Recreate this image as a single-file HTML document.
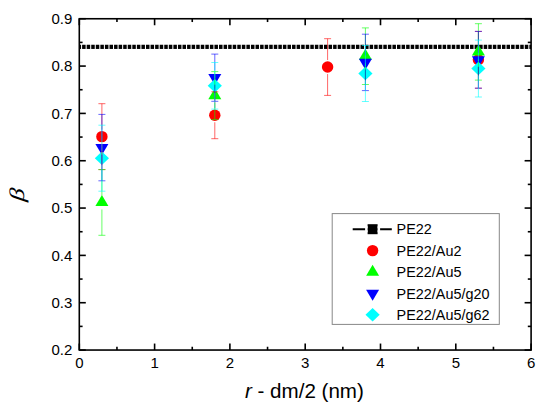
<!DOCTYPE html>
<html><head><meta charset="utf-8"><style>
html,body{margin:0;padding:0;background:#fff;width:550px;height:412px;overflow:hidden;}
svg{display:block;font-family:"Liberation Sans",sans-serif;}
</style></head><body>
<svg width="550" height="412" viewBox="0 0 550 412" font-family="Liberation Sans, sans-serif" fill="#000">
<rect width="550" height="412" fill="#fff"/>
<rect x="79.30" y="44.75" width="1.75" height="4.2" fill="#000"/>
<rect x="82.11" y="44.75" width="3.50" height="4.2" fill="#000"/>
<rect x="86.68" y="44.75" width="3.50" height="4.2" fill="#000"/>
<rect x="91.24" y="44.75" width="3.50" height="4.2" fill="#000"/>
<rect x="95.80" y="44.75" width="3.50" height="4.2" fill="#000"/>
<rect x="100.37" y="44.75" width="3.50" height="4.2" fill="#000"/>
<rect x="104.93" y="44.75" width="3.50" height="4.2" fill="#000"/>
<rect x="109.50" y="44.75" width="3.50" height="4.2" fill="#000"/>
<rect x="114.06" y="44.75" width="3.50" height="4.2" fill="#000"/>
<rect x="118.62" y="44.75" width="3.50" height="4.2" fill="#000"/>
<rect x="123.19" y="44.75" width="3.50" height="4.2" fill="#000"/>
<rect x="127.75" y="44.75" width="3.50" height="4.2" fill="#000"/>
<rect x="132.31" y="44.75" width="3.50" height="4.2" fill="#000"/>
<rect x="136.88" y="44.75" width="3.50" height="4.2" fill="#000"/>
<rect x="141.44" y="44.75" width="3.50" height="4.2" fill="#000"/>
<rect x="146.00" y="44.75" width="3.50" height="4.2" fill="#000"/>
<rect x="150.57" y="44.75" width="3.50" height="4.2" fill="#000"/>
<rect x="155.13" y="44.75" width="3.50" height="4.2" fill="#000"/>
<rect x="159.70" y="44.75" width="3.50" height="4.2" fill="#000"/>
<rect x="164.26" y="44.75" width="3.50" height="4.2" fill="#000"/>
<rect x="168.82" y="44.75" width="3.50" height="4.2" fill="#000"/>
<rect x="173.39" y="44.75" width="3.50" height="4.2" fill="#000"/>
<rect x="177.95" y="44.75" width="3.50" height="4.2" fill="#000"/>
<rect x="182.51" y="44.75" width="3.50" height="4.2" fill="#000"/>
<rect x="187.08" y="44.75" width="3.50" height="4.2" fill="#000"/>
<rect x="191.64" y="44.75" width="3.50" height="4.2" fill="#000"/>
<rect x="196.20" y="44.75" width="3.50" height="4.2" fill="#000"/>
<rect x="200.77" y="44.75" width="3.50" height="4.2" fill="#000"/>
<rect x="205.33" y="44.75" width="3.50" height="4.2" fill="#000"/>
<rect x="209.90" y="44.75" width="3.50" height="4.2" fill="#000"/>
<rect x="214.46" y="44.75" width="3.50" height="4.2" fill="#000"/>
<rect x="219.02" y="44.75" width="3.50" height="4.2" fill="#000"/>
<rect x="223.59" y="44.75" width="3.50" height="4.2" fill="#000"/>
<rect x="228.15" y="44.75" width="3.50" height="4.2" fill="#000"/>
<rect x="232.71" y="44.75" width="3.50" height="4.2" fill="#000"/>
<rect x="237.28" y="44.75" width="3.50" height="4.2" fill="#000"/>
<rect x="241.84" y="44.75" width="3.50" height="4.2" fill="#000"/>
<rect x="246.40" y="44.75" width="3.50" height="4.2" fill="#000"/>
<rect x="250.97" y="44.75" width="3.50" height="4.2" fill="#000"/>
<rect x="255.53" y="44.75" width="3.50" height="4.2" fill="#000"/>
<rect x="260.10" y="44.75" width="3.50" height="4.2" fill="#000"/>
<rect x="264.66" y="44.75" width="3.50" height="4.2" fill="#000"/>
<rect x="269.22" y="44.75" width="3.50" height="4.2" fill="#000"/>
<rect x="273.79" y="44.75" width="3.50" height="4.2" fill="#000"/>
<rect x="278.35" y="44.75" width="3.50" height="4.2" fill="#000"/>
<rect x="282.91" y="44.75" width="3.50" height="4.2" fill="#000"/>
<rect x="287.48" y="44.75" width="3.50" height="4.2" fill="#000"/>
<rect x="292.04" y="44.75" width="3.50" height="4.2" fill="#000"/>
<rect x="296.60" y="44.75" width="3.50" height="4.2" fill="#000"/>
<rect x="301.17" y="44.75" width="3.50" height="4.2" fill="#000"/>
<rect x="305.73" y="44.75" width="3.50" height="4.2" fill="#000"/>
<rect x="310.30" y="44.75" width="3.50" height="4.2" fill="#000"/>
<rect x="314.86" y="44.75" width="3.50" height="4.2" fill="#000"/>
<rect x="319.42" y="44.75" width="3.50" height="4.2" fill="#000"/>
<rect x="323.99" y="44.75" width="3.50" height="4.2" fill="#000"/>
<rect x="328.55" y="44.75" width="3.50" height="4.2" fill="#000"/>
<rect x="333.11" y="44.75" width="3.50" height="4.2" fill="#000"/>
<rect x="337.68" y="44.75" width="3.50" height="4.2" fill="#000"/>
<rect x="342.24" y="44.75" width="3.50" height="4.2" fill="#000"/>
<rect x="346.80" y="44.75" width="3.50" height="4.2" fill="#000"/>
<rect x="351.37" y="44.75" width="3.50" height="4.2" fill="#000"/>
<rect x="355.93" y="44.75" width="3.50" height="4.2" fill="#000"/>
<rect x="360.50" y="44.75" width="3.50" height="4.2" fill="#000"/>
<rect x="365.06" y="44.75" width="3.50" height="4.2" fill="#000"/>
<rect x="369.62" y="44.75" width="3.50" height="4.2" fill="#000"/>
<rect x="374.19" y="44.75" width="3.50" height="4.2" fill="#000"/>
<rect x="378.75" y="44.75" width="3.50" height="4.2" fill="#000"/>
<rect x="383.31" y="44.75" width="3.50" height="4.2" fill="#000"/>
<rect x="387.88" y="44.75" width="3.50" height="4.2" fill="#000"/>
<rect x="392.44" y="44.75" width="3.50" height="4.2" fill="#000"/>
<rect x="397.00" y="44.75" width="3.50" height="4.2" fill="#000"/>
<rect x="401.57" y="44.75" width="3.50" height="4.2" fill="#000"/>
<rect x="406.13" y="44.75" width="3.50" height="4.2" fill="#000"/>
<rect x="410.70" y="44.75" width="3.50" height="4.2" fill="#000"/>
<rect x="415.26" y="44.75" width="3.50" height="4.2" fill="#000"/>
<rect x="419.82" y="44.75" width="3.50" height="4.2" fill="#000"/>
<rect x="424.39" y="44.75" width="3.50" height="4.2" fill="#000"/>
<rect x="428.95" y="44.75" width="3.50" height="4.2" fill="#000"/>
<rect x="433.51" y="44.75" width="3.50" height="4.2" fill="#000"/>
<rect x="438.08" y="44.75" width="3.50" height="4.2" fill="#000"/>
<rect x="442.64" y="44.75" width="3.50" height="4.2" fill="#000"/>
<rect x="447.20" y="44.75" width="3.50" height="4.2" fill="#000"/>
<rect x="451.77" y="44.75" width="3.50" height="4.2" fill="#000"/>
<rect x="456.33" y="44.75" width="3.50" height="4.2" fill="#000"/>
<rect x="460.90" y="44.75" width="3.50" height="4.2" fill="#000"/>
<rect x="465.46" y="44.75" width="3.50" height="4.2" fill="#000"/>
<rect x="470.02" y="44.75" width="3.50" height="4.2" fill="#000"/>
<rect x="474.59" y="44.75" width="3.50" height="4.2" fill="#000"/>
<rect x="479.15" y="44.75" width="3.50" height="4.2" fill="#000"/>
<rect x="483.71" y="44.75" width="3.50" height="4.2" fill="#000"/>
<rect x="488.28" y="44.75" width="3.50" height="4.2" fill="#000"/>
<rect x="492.84" y="44.75" width="3.50" height="4.2" fill="#000"/>
<rect x="497.40" y="44.75" width="3.50" height="4.2" fill="#000"/>
<rect x="501.97" y="44.75" width="3.50" height="4.2" fill="#000"/>
<rect x="506.53" y="44.75" width="3.50" height="4.2" fill="#000"/>
<rect x="511.10" y="44.75" width="3.50" height="4.2" fill="#000"/>
<rect x="515.66" y="44.75" width="3.50" height="4.2" fill="#000"/>
<rect x="520.22" y="44.75" width="3.50" height="4.2" fill="#000"/>
<rect x="524.79" y="44.75" width="3.50" height="4.2" fill="#000"/>
<rect x="529.35" y="44.75" width="1.75" height="4.2" fill="#000"/>
<circle cx="101.90" cy="136.65" r="5.7" fill="#ff0000"/>
<circle cx="214.80" cy="115.25" r="5.7" fill="#ff0000"/>
<circle cx="327.60" cy="67.05" r="5.7" fill="#ff0000"/>
<circle cx="478.40" cy="59.80" r="5.7" fill="#ff0000"/>
<polygon points="101.90,195.12 108.40,206.12 95.40,206.12" fill="#00ff00"/>
<polygon points="214.80,88.27 221.30,99.27 208.30,99.27" fill="#00ff00"/>
<polygon points="365.40,48.87 371.90,59.87 358.90,59.87" fill="#00ff00"/>
<polygon points="478.40,44.57 484.90,55.57 471.90,55.57" fill="#00ff00"/>
<polygon points="95.40,143.93 108.40,143.93 101.90,154.93" fill="#0000ff"/>
<polygon points="208.30,74.03 221.30,74.03 214.80,85.03" fill="#0000ff"/>
<polygon points="358.90,58.73 371.90,58.73 365.40,69.73" fill="#0000ff"/>
<polygon points="471.90,56.13 484.90,56.13 478.40,67.13" fill="#0000ff"/>
<polygon points="101.90,151.50 109.00,158.20 101.90,164.90 94.80,158.20" fill="#00ffff"/>
<polygon points="214.80,79.10 221.90,85.80 214.80,92.50 207.70,85.80" fill="#00ffff"/>
<polygon points="365.40,66.80 372.50,73.50 365.40,80.20 358.30,73.50" fill="#00ffff"/>
<polygon points="478.40,61.85 485.50,68.55 478.40,75.25 471.30,68.55" fill="#00ffff"/>
<line x1="101.90" y1="103.70" x2="101.90" y2="129.65" stroke="#ff0000" stroke-width="1" stroke-opacity="0.6"/>
<line x1="101.90" y1="143.65" x2="101.90" y2="169.60" stroke="#ff0000" stroke-width="1" stroke-opacity="0.6"/>
<line x1="98.40" y1="103.70" x2="105.40" y2="103.70" stroke="#ff0000" stroke-width="1" stroke-opacity="0.6"/>
<line x1="98.40" y1="169.60" x2="105.40" y2="169.60" stroke="#ff0000" stroke-width="1" stroke-opacity="0.6"/>
<line x1="214.80" y1="91.80" x2="214.80" y2="108.25" stroke="#ff0000" stroke-width="1" stroke-opacity="0.6"/>
<line x1="214.80" y1="122.25" x2="214.80" y2="138.70" stroke="#ff0000" stroke-width="1" stroke-opacity="0.6"/>
<line x1="211.30" y1="91.80" x2="218.30" y2="91.80" stroke="#ff0000" stroke-width="1" stroke-opacity="0.6"/>
<line x1="211.30" y1="138.70" x2="218.30" y2="138.70" stroke="#ff0000" stroke-width="1" stroke-opacity="0.6"/>
<line x1="327.60" y1="38.70" x2="327.60" y2="60.05" stroke="#ff0000" stroke-width="1" stroke-opacity="0.6"/>
<line x1="327.60" y1="74.05" x2="327.60" y2="95.40" stroke="#ff0000" stroke-width="1" stroke-opacity="0.6"/>
<line x1="324.10" y1="38.70" x2="331.10" y2="38.70" stroke="#ff0000" stroke-width="1" stroke-opacity="0.6"/>
<line x1="324.10" y1="95.40" x2="331.10" y2="95.40" stroke="#ff0000" stroke-width="1" stroke-opacity="0.6"/>
<line x1="478.40" y1="31.40" x2="478.40" y2="52.80" stroke="#ff0000" stroke-width="1" stroke-opacity="0.6"/>
<line x1="478.40" y1="66.80" x2="478.40" y2="88.20" stroke="#ff0000" stroke-width="1" stroke-opacity="0.6"/>
<line x1="474.90" y1="31.40" x2="481.90" y2="31.40" stroke="#ff0000" stroke-width="1" stroke-opacity="0.6"/>
<line x1="474.90" y1="88.20" x2="481.90" y2="88.20" stroke="#ff0000" stroke-width="1" stroke-opacity="0.6"/>
<line x1="101.90" y1="169.60" x2="101.90" y2="195.45" stroke="#00ff00" stroke-width="1" stroke-opacity="0.6"/>
<line x1="101.90" y1="209.45" x2="101.90" y2="235.30" stroke="#00ff00" stroke-width="1" stroke-opacity="0.6"/>
<line x1="98.40" y1="169.60" x2="105.40" y2="169.60" stroke="#00ff00" stroke-width="1" stroke-opacity="0.6"/>
<line x1="98.40" y1="235.30" x2="105.40" y2="235.30" stroke="#00ff00" stroke-width="1" stroke-opacity="0.6"/>
<line x1="214.80" y1="71.60" x2="214.80" y2="88.60" stroke="#00ff00" stroke-width="1" stroke-opacity="0.6"/>
<line x1="214.80" y1="102.60" x2="214.80" y2="119.60" stroke="#00ff00" stroke-width="1" stroke-opacity="0.6"/>
<line x1="211.30" y1="71.60" x2="218.30" y2="71.60" stroke="#00ff00" stroke-width="1" stroke-opacity="0.6"/>
<line x1="211.30" y1="119.60" x2="218.30" y2="119.60" stroke="#00ff00" stroke-width="1" stroke-opacity="0.6"/>
<line x1="365.40" y1="27.90" x2="365.40" y2="49.20" stroke="#00ff00" stroke-width="1" stroke-opacity="0.6"/>
<line x1="365.40" y1="63.20" x2="365.40" y2="84.50" stroke="#00ff00" stroke-width="1" stroke-opacity="0.6"/>
<line x1="361.90" y1="27.90" x2="368.90" y2="27.90" stroke="#00ff00" stroke-width="1" stroke-opacity="0.6"/>
<line x1="361.90" y1="84.50" x2="368.90" y2="84.50" stroke="#00ff00" stroke-width="1" stroke-opacity="0.6"/>
<line x1="478.40" y1="23.70" x2="478.40" y2="44.90" stroke="#00ff00" stroke-width="1" stroke-opacity="0.6"/>
<line x1="478.40" y1="58.90" x2="478.40" y2="80.10" stroke="#00ff00" stroke-width="1" stroke-opacity="0.6"/>
<line x1="474.90" y1="23.70" x2="481.90" y2="23.70" stroke="#00ff00" stroke-width="1" stroke-opacity="0.6"/>
<line x1="474.90" y1="80.10" x2="481.90" y2="80.10" stroke="#00ff00" stroke-width="1" stroke-opacity="0.6"/>
<line x1="101.90" y1="114.40" x2="101.90" y2="140.60" stroke="#0000ff" stroke-width="1" stroke-opacity="0.6"/>
<line x1="101.90" y1="154.60" x2="101.90" y2="180.80" stroke="#0000ff" stroke-width="1" stroke-opacity="0.6"/>
<line x1="98.40" y1="114.40" x2="105.40" y2="114.40" stroke="#0000ff" stroke-width="1" stroke-opacity="0.6"/>
<line x1="98.40" y1="180.80" x2="105.40" y2="180.80" stroke="#0000ff" stroke-width="1" stroke-opacity="0.6"/>
<line x1="214.80" y1="54.10" x2="214.80" y2="70.70" stroke="#0000ff" stroke-width="1" stroke-opacity="0.6"/>
<line x1="214.80" y1="84.70" x2="214.80" y2="101.30" stroke="#0000ff" stroke-width="1" stroke-opacity="0.6"/>
<line x1="211.30" y1="54.10" x2="218.30" y2="54.10" stroke="#0000ff" stroke-width="1" stroke-opacity="0.6"/>
<line x1="211.30" y1="101.30" x2="218.30" y2="101.30" stroke="#0000ff" stroke-width="1" stroke-opacity="0.6"/>
<line x1="365.40" y1="34.20" x2="365.40" y2="55.40" stroke="#0000ff" stroke-width="1" stroke-opacity="0.6"/>
<line x1="365.40" y1="69.40" x2="365.40" y2="90.60" stroke="#0000ff" stroke-width="1" stroke-opacity="0.6"/>
<line x1="361.90" y1="34.20" x2="368.90" y2="34.20" stroke="#0000ff" stroke-width="1" stroke-opacity="0.6"/>
<line x1="361.90" y1="90.60" x2="368.90" y2="90.60" stroke="#0000ff" stroke-width="1" stroke-opacity="0.6"/>
<line x1="478.40" y1="31.40" x2="478.40" y2="52.80" stroke="#0000ff" stroke-width="1" stroke-opacity="0.6"/>
<line x1="478.40" y1="66.80" x2="478.40" y2="88.20" stroke="#0000ff" stroke-width="1" stroke-opacity="0.6"/>
<line x1="474.90" y1="31.40" x2="481.90" y2="31.40" stroke="#0000ff" stroke-width="1" stroke-opacity="0.6"/>
<line x1="474.90" y1="88.20" x2="481.90" y2="88.20" stroke="#0000ff" stroke-width="1" stroke-opacity="0.6"/>
<line x1="101.90" y1="125.20" x2="101.90" y2="151.20" stroke="#00ffff" stroke-width="1" stroke-opacity="0.6"/>
<line x1="101.90" y1="165.20" x2="101.90" y2="191.20" stroke="#00ffff" stroke-width="1" stroke-opacity="0.6"/>
<line x1="98.40" y1="125.20" x2="105.40" y2="125.20" stroke="#00ffff" stroke-width="1" stroke-opacity="0.6"/>
<line x1="98.40" y1="191.20" x2="105.40" y2="191.20" stroke="#00ffff" stroke-width="1" stroke-opacity="0.6"/>
<line x1="214.80" y1="62.50" x2="214.80" y2="78.80" stroke="#00ffff" stroke-width="1" stroke-opacity="0.6"/>
<line x1="214.80" y1="92.80" x2="214.80" y2="109.10" stroke="#00ffff" stroke-width="1" stroke-opacity="0.6"/>
<line x1="211.30" y1="62.50" x2="218.30" y2="62.50" stroke="#00ffff" stroke-width="1" stroke-opacity="0.6"/>
<line x1="211.30" y1="109.10" x2="218.30" y2="109.10" stroke="#00ffff" stroke-width="1" stroke-opacity="0.6"/>
<line x1="365.40" y1="45.50" x2="365.40" y2="66.50" stroke="#00ffff" stroke-width="1" stroke-opacity="0.6"/>
<line x1="365.40" y1="80.50" x2="365.40" y2="101.50" stroke="#00ffff" stroke-width="1" stroke-opacity="0.6"/>
<line x1="361.90" y1="45.50" x2="368.90" y2="45.50" stroke="#00ffff" stroke-width="1" stroke-opacity="0.6"/>
<line x1="361.90" y1="101.50" x2="368.90" y2="101.50" stroke="#00ffff" stroke-width="1" stroke-opacity="0.6"/>
<line x1="478.40" y1="40.10" x2="478.40" y2="61.55" stroke="#00ffff" stroke-width="1" stroke-opacity="0.6"/>
<line x1="478.40" y1="75.55" x2="478.40" y2="97.00" stroke="#00ffff" stroke-width="1" stroke-opacity="0.6"/>
<line x1="474.90" y1="40.10" x2="481.90" y2="40.10" stroke="#00ffff" stroke-width="1" stroke-opacity="0.6"/>
<line x1="474.90" y1="97.00" x2="481.90" y2="97.00" stroke="#00ffff" stroke-width="1" stroke-opacity="0.6"/>
<rect x="79.30" y="18.75" width="451.80" height="331.30" fill="none" stroke="#000" stroke-width="1.6"/>
<line x1="79.30" y1="350.05" x2="79.30" y2="343.55" stroke="#000" stroke-width="1.6"/>
<line x1="79.30" y1="18.75" x2="79.30" y2="25.25" stroke="#000" stroke-width="1.6"/>
<line x1="116.95" y1="350.05" x2="116.95" y2="346.75" stroke="#000" stroke-width="1.6"/>
<line x1="116.95" y1="18.75" x2="116.95" y2="22.05" stroke="#000" stroke-width="1.6"/>
<line x1="154.60" y1="350.05" x2="154.60" y2="343.55" stroke="#000" stroke-width="1.6"/>
<line x1="154.60" y1="18.75" x2="154.60" y2="25.25" stroke="#000" stroke-width="1.6"/>
<line x1="192.25" y1="350.05" x2="192.25" y2="346.75" stroke="#000" stroke-width="1.6"/>
<line x1="192.25" y1="18.75" x2="192.25" y2="22.05" stroke="#000" stroke-width="1.6"/>
<line x1="229.90" y1="350.05" x2="229.90" y2="343.55" stroke="#000" stroke-width="1.6"/>
<line x1="229.90" y1="18.75" x2="229.90" y2="25.25" stroke="#000" stroke-width="1.6"/>
<line x1="267.55" y1="350.05" x2="267.55" y2="346.75" stroke="#000" stroke-width="1.6"/>
<line x1="267.55" y1="18.75" x2="267.55" y2="22.05" stroke="#000" stroke-width="1.6"/>
<line x1="305.20" y1="350.05" x2="305.20" y2="343.55" stroke="#000" stroke-width="1.6"/>
<line x1="305.20" y1="18.75" x2="305.20" y2="25.25" stroke="#000" stroke-width="1.6"/>
<line x1="342.85" y1="350.05" x2="342.85" y2="346.75" stroke="#000" stroke-width="1.6"/>
<line x1="342.85" y1="18.75" x2="342.85" y2="22.05" stroke="#000" stroke-width="1.6"/>
<line x1="380.50" y1="350.05" x2="380.50" y2="343.55" stroke="#000" stroke-width="1.6"/>
<line x1="380.50" y1="18.75" x2="380.50" y2="25.25" stroke="#000" stroke-width="1.6"/>
<line x1="418.15" y1="350.05" x2="418.15" y2="346.75" stroke="#000" stroke-width="1.6"/>
<line x1="418.15" y1="18.75" x2="418.15" y2="22.05" stroke="#000" stroke-width="1.6"/>
<line x1="455.80" y1="350.05" x2="455.80" y2="343.55" stroke="#000" stroke-width="1.6"/>
<line x1="455.80" y1="18.75" x2="455.80" y2="25.25" stroke="#000" stroke-width="1.6"/>
<line x1="493.45" y1="350.05" x2="493.45" y2="346.75" stroke="#000" stroke-width="1.6"/>
<line x1="493.45" y1="18.75" x2="493.45" y2="22.05" stroke="#000" stroke-width="1.6"/>
<line x1="531.10" y1="350.05" x2="531.10" y2="343.55" stroke="#000" stroke-width="1.6"/>
<line x1="531.10" y1="18.75" x2="531.10" y2="25.25" stroke="#000" stroke-width="1.6"/>
<line x1="79.30" y1="350.05" x2="85.80" y2="350.05" stroke="#000" stroke-width="1.6"/>
<line x1="531.10" y1="350.05" x2="524.60" y2="350.05" stroke="#000" stroke-width="1.6"/>
<line x1="79.30" y1="326.39" x2="82.60" y2="326.39" stroke="#000" stroke-width="1.6"/>
<line x1="531.10" y1="326.39" x2="527.80" y2="326.39" stroke="#000" stroke-width="1.6"/>
<line x1="79.30" y1="302.72" x2="85.80" y2="302.72" stroke="#000" stroke-width="1.6"/>
<line x1="531.10" y1="302.72" x2="524.60" y2="302.72" stroke="#000" stroke-width="1.6"/>
<line x1="79.30" y1="279.06" x2="82.60" y2="279.06" stroke="#000" stroke-width="1.6"/>
<line x1="531.10" y1="279.06" x2="527.80" y2="279.06" stroke="#000" stroke-width="1.6"/>
<line x1="79.30" y1="255.39" x2="85.80" y2="255.39" stroke="#000" stroke-width="1.6"/>
<line x1="531.10" y1="255.39" x2="524.60" y2="255.39" stroke="#000" stroke-width="1.6"/>
<line x1="79.30" y1="231.73" x2="82.60" y2="231.73" stroke="#000" stroke-width="1.6"/>
<line x1="531.10" y1="231.73" x2="527.80" y2="231.73" stroke="#000" stroke-width="1.6"/>
<line x1="79.30" y1="208.06" x2="85.80" y2="208.06" stroke="#000" stroke-width="1.6"/>
<line x1="531.10" y1="208.06" x2="524.60" y2="208.06" stroke="#000" stroke-width="1.6"/>
<line x1="79.30" y1="184.40" x2="82.60" y2="184.40" stroke="#000" stroke-width="1.6"/>
<line x1="531.10" y1="184.40" x2="527.80" y2="184.40" stroke="#000" stroke-width="1.6"/>
<line x1="79.30" y1="160.74" x2="85.80" y2="160.74" stroke="#000" stroke-width="1.6"/>
<line x1="531.10" y1="160.74" x2="524.60" y2="160.74" stroke="#000" stroke-width="1.6"/>
<line x1="79.30" y1="137.07" x2="82.60" y2="137.07" stroke="#000" stroke-width="1.6"/>
<line x1="531.10" y1="137.07" x2="527.80" y2="137.07" stroke="#000" stroke-width="1.6"/>
<line x1="79.30" y1="113.41" x2="85.80" y2="113.41" stroke="#000" stroke-width="1.6"/>
<line x1="531.10" y1="113.41" x2="524.60" y2="113.41" stroke="#000" stroke-width="1.6"/>
<line x1="79.30" y1="89.74" x2="82.60" y2="89.74" stroke="#000" stroke-width="1.6"/>
<line x1="531.10" y1="89.74" x2="527.80" y2="89.74" stroke="#000" stroke-width="1.6"/>
<line x1="79.30" y1="66.08" x2="85.80" y2="66.08" stroke="#000" stroke-width="1.6"/>
<line x1="531.10" y1="66.08" x2="524.60" y2="66.08" stroke="#000" stroke-width="1.6"/>
<line x1="79.30" y1="42.41" x2="82.60" y2="42.41" stroke="#000" stroke-width="1.6"/>
<line x1="531.10" y1="42.41" x2="527.80" y2="42.41" stroke="#000" stroke-width="1.6"/>
<line x1="79.30" y1="18.75" x2="85.80" y2="18.75" stroke="#000" stroke-width="1.6"/>
<line x1="531.10" y1="18.75" x2="524.60" y2="18.75" stroke="#000" stroke-width="1.6"/>
<rect x="332.2" y="213.6" width="167.1" height="110.8" fill="#fff" stroke="#888" stroke-width="1"/>
<line x1="352.7" y1="229.20" x2="391.8" y2="229.20" stroke="#000" stroke-width="2"/>
<rect x="367.60" y="224.20" width="10" height="10" fill="#000" stroke="#fff" stroke-width="0"/>
<rect x="365.10" y="226.20" width="2.5" height="6" fill="#fff"/><rect x="377.60" y="226.20" width="2.5" height="6" fill="#fff"/>
<text x="396.6" y="234.40" font-size="14.4">PE22</text>
<circle cx="372.60" cy="250.60" r="5.7" fill="#ff0000"/>
<text x="396.6" y="255.80" font-size="14.4">PE22/Au2</text>
<polygon points="372.60,264.67 379.10,275.67 366.10,275.67" fill="#00ff00"/>
<text x="396.6" y="277.20" font-size="14.4">PE22/Au5</text>
<polygon points="366.10,289.73 379.10,289.73 372.60,300.73" fill="#0000ff"/>
<text x="396.6" y="298.60" font-size="14.4">PE22/Au5/g20</text>
<polygon points="372.60,308.10 379.70,314.80 372.60,321.50 365.50,314.80" fill="#00ffff"/>
<text x="396.6" y="320.00" font-size="14.4">PE22/Au5/g62</text>
<text x="79.30" y="368.1" text-anchor="middle" font-size="15">0</text>
<text x="154.60" y="368.1" text-anchor="middle" font-size="15">1</text>
<text x="229.90" y="368.1" text-anchor="middle" font-size="15">2</text>
<text x="305.20" y="368.1" text-anchor="middle" font-size="15">3</text>
<text x="380.50" y="368.1" text-anchor="middle" font-size="15">4</text>
<text x="455.80" y="368.1" text-anchor="middle" font-size="15">5</text>
<text x="531.10" y="368.1" text-anchor="middle" font-size="15">6</text>
<text x="72.4" y="355.35" text-anchor="end" font-size="15">0.2</text>
<text x="72.4" y="308.02" text-anchor="end" font-size="15">0.3</text>
<text x="72.4" y="260.69" text-anchor="end" font-size="15">0.4</text>
<text x="72.4" y="213.36" text-anchor="end" font-size="15">0.5</text>
<text x="72.4" y="166.04" text-anchor="end" font-size="15">0.6</text>
<text x="72.4" y="118.71" text-anchor="end" font-size="15">0.7</text>
<text x="72.4" y="71.38" text-anchor="end" font-size="15">0.8</text>
<text x="72.4" y="24.05" text-anchor="end" font-size="15">0.9</text>
<text x="304.4" y="397.8" text-anchor="middle" font-size="20.6"><tspan font-style="italic">r</tspan> - dm/2 (nm)</text>
<text transform="translate(24.2,195.2) rotate(-90) skewX(-7) scale(1.18,0.95)" text-anchor="middle" font-family="Liberation Serif" font-style="italic" font-size="22">&#946;</text>
</svg>
</body></html>
